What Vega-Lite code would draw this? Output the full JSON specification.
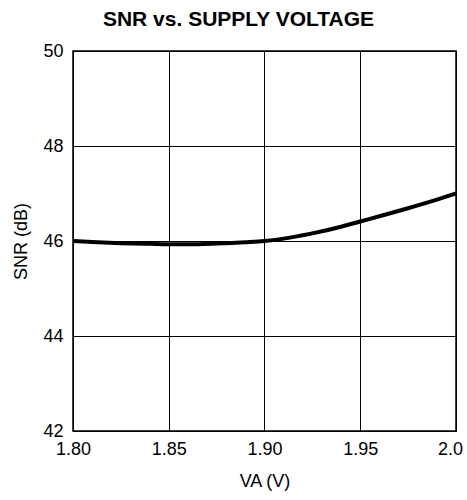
{
  "$schema": "https://vega.github.io/schema/vega-lite/v6.json",
  "width": 383,
  "height": 380,
  "autosize": {"type": "none"},
  "padding": {"left": 73, "top": 51, "right": 11, "bottom": 69},
  "background": "white",
  "title": {
    "text": "SNR vs. SUPPLY VOLTAGE",
    "font": "Liberation Sans",
    "fontSize": 21,
    "fontWeight": "bold",
    "color": "black",
    "anchor": "middle",
    "frame": "bounds",
    "offset": 12
  },
  "data": {
    "values": [
      {"va": 1.80, "snr": 46.00},
      {"va": 1.81, "snr": 45.98},
      {"va": 1.825, "snr": 45.955},
      {"va": 1.84, "snr": 45.94},
      {"va": 1.85, "snr": 45.932},
      {"va": 1.86, "snr": 45.932},
      {"va": 1.875, "snr": 45.948},
      {"va": 1.89, "snr": 45.975},
      {"va": 1.90, "snr": 46.0},
      {"va": 1.91, "snr": 46.05},
      {"va": 1.925, "snr": 46.16},
      {"va": 1.94, "snr": 46.30},
      {"va": 1.95, "snr": 46.41},
      {"va": 1.96, "snr": 46.52},
      {"va": 1.975, "snr": 46.69},
      {"va": 1.99, "snr": 46.87},
      {"va": 2.0, "snr": 47.0}
    ]
  },
  "mark": {"type": "line", "color": "black", "strokeWidth": 4, "interpolate": "monotone"},
  "encoding": {
    "x": {
      "field": "va",
      "type": "quantitative",
      "title": "VA (V)",
      "scale": {"domain": [1.8, 2.0], "nice": false, "zero": false},
      "axis": {
        "values": [1.8, 1.85, 1.9, 1.95, 2.0],
        "labelExpr": "datum.value == 2 ? '2.0' : format(datum.value, '.2f')",
        "labelOffset": {"condition": {"test": "datum.value == 2", "value": -6}, "value": 0}
      }
    },
    "y": {
      "field": "snr",
      "type": "quantitative",
      "title": "SNR (dB)",
      "scale": {"domain": [42, 50], "nice": false, "zero": false},
      "axis": {"values": [42, 44, 46, 48, 50]}
    }
  },
  "config": {
    "font": "Liberation Sans",
    "view": {"stroke": "black", "strokeWidth": 1.5},
    "axis": {
      "domain": false,
      "ticks": false,
      "grid": true,
      "gridColor": "black",
      "gridOpacity": 1,
      "gridWidth": 1,
      "labelFont": "Liberation Sans",
      "labelFontSize": 18,
      "labelColor": "black",
      "titleFont": "Liberation Sans",
      "titleFontSize": 18,
      "titleFontWeight": "normal",
      "titleColor": "black",
      "labelFlush": false,
      "labelOverlap": false
    },
    "axisX": {"labelPadding": 9, "titlePadding": 14},
    "axisY": {"labelPadding": 10, "titlePadding": 12}
  }
}
